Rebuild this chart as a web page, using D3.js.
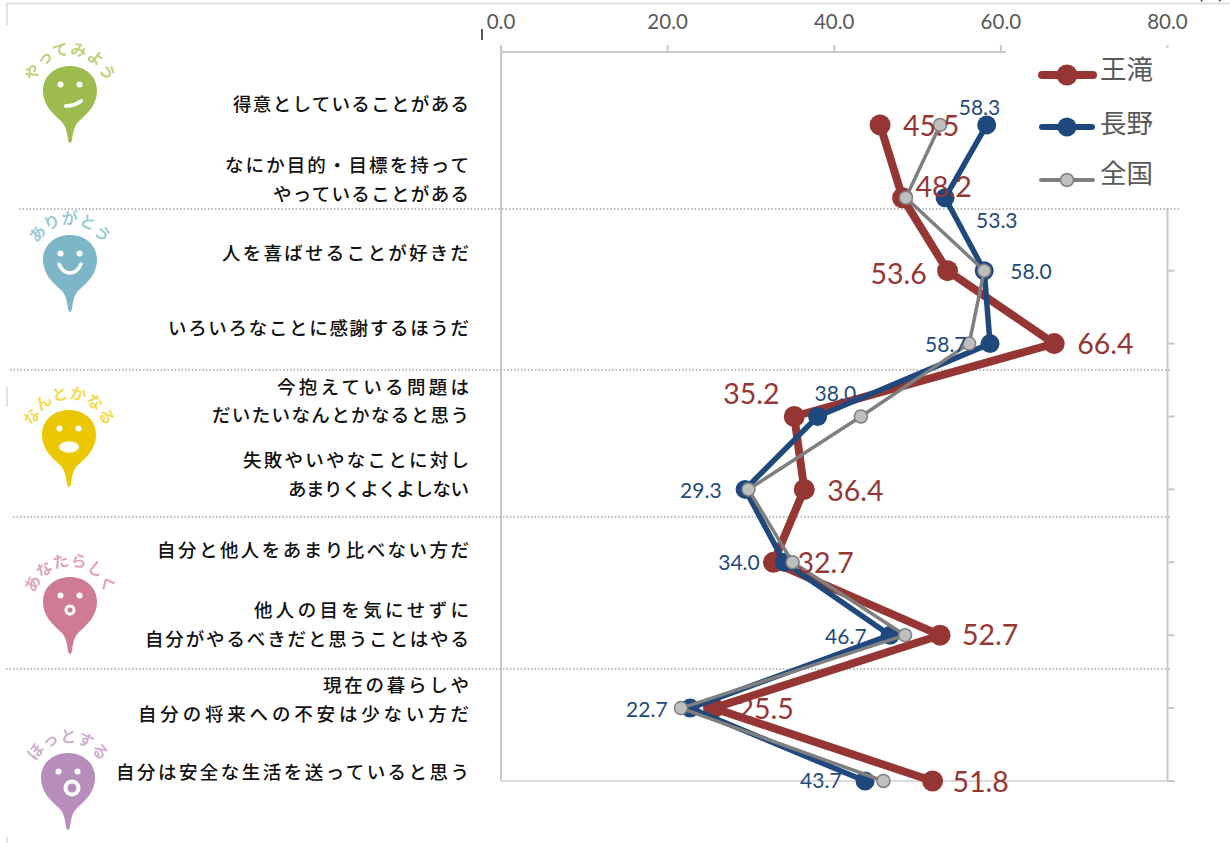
<!DOCTYPE html>
<html><head><meta charset="utf-8">
<script src="https://cdn.jsdelivr.net/npm/d3@7"></script>
<style>html,body{margin:0;padding:0;background:#fff}svg{display:block}</style>
</head><body><div id="c"></div>
<script>
const categories=[
 ["得意としていることがある"],
 ["なにか目的・目標を持って","やっていることがある"],
 ["人を喜ばせることが好きだ"],
 ["いろいろなことに感謝するほうだ"],
 ["今抱えている問題は","だいたいなんとかなると思う"],
 ["失敗やいやなことに対し","あまりくよくよしない"],
 ["自分と他人をあまり比べない方だ"],
 ["他人の目を気にせずに","自分がやるべきだと思うことはやる"],
 ["現在の暮らしや","自分の将来への不安は少ない方だ"],
 ["自分は安全な生活を送っていると思う"]];
const otaki=[45.5,48.2,53.6,66.4,35.2,36.4,32.7,52.7,25.5,51.8];
const nagano=[58.3,53.3,58.0,58.7,38.0,29.3,34.0,46.7,22.7,43.7];
const zenkoku=[52.7,48.6,58.0,56.2,43.2,29.7,35.0,48.5,21.6,45.9];
const xTicks=[0,20,40,60,80];
const seriesNames=["王滝","長野","全国"];
const groupNames=["やってみよう","ありがとう","なんとかなる","あなたらしく","ほっとする"];
const red="#963634",blue="#1F497D",gray="#7F7F7F",lightGray="#BFBFBF";
const W=1230,H=843;
const svg=d3.select("#c").append("svg").attr("width",W).attr("height",H);
const x=d3.scaleLinear().domain([0,80]).range([501,1167.5]);
const y=d3.scaleLinear().domain([-1,9]).range([52,781]);
const latin="Lato,'Noto Sans CJK JP',sans-serif";
const jp="'Noto Sans CJK JP',sans-serif";
const defs=svg.append("defs");
defs.append("filter").attr("id","soft").append("feGaussianBlur").attr("stdDeviation",0.5);

// frame fragments
svg.append("path").attr("d","M7,25V3.5H1230").attr("fill","none").attr("stroke","#D9D9D9").attr("stroke-width",1.5);
svg.append("path").attr("d","M7,387V407M7,837V843").attr("fill","none").attr("stroke","#D9D9D9").attr("stroke-width",1.5);
svg.append("path").attr("d","M482,29V40").attr("stroke","#222").attr("stroke-width",1.5);
svg.append("text").attr("x",1198).attr("y",-1).attr("font-family",latin).attr("font-size",19).attr("fill","#333").text("(%)");

// axes
const axisCol="#C8C8C8";
const ax=svg.append("g").attr("stroke",axisCol).attr("stroke-width",2).attr("fill","none");
ax.append("line").attr("x1",x(0)).attr("x2",1006).attr("y1",52).attr("y2",52);
ax.append("line").attr("x1",x(0)).attr("x2",x(0)).attr("y1",52).attr("y2",781);
ax.append("line").attr("x1",x(0)).attr("x2",x(80)+7).attr("y1",781).attr("y2",781).attr("stroke","#DCDCDC");
ax.append("line").attr("x1",x(80)).attr("x2",x(80)).attr("y1",208).attr("y2",781);
ax.selectAll("line.t").data(xTicks).join("line").attr("class","t")
  .attr("x1",d=>x(d)).attr("x2",d=>x(d)).attr("y1",45).attr("y2",d=>d===80?48:52);
ax.selectAll("line.r").data(d3.range(2,10)).join("line").attr("class","r")
  .attr("x1",x(80)).attr("x2",x(80)+7).attr("y1",d=>y(d)).attr("y2",d=>y(d));
svg.selectAll("text.tick").data(xTicks).join("text").attr("class","tick")
  .attr("x",d=>x(d)).attr("y",29).attr("text-anchor","middle")
  .attr("font-family",latin).attr("font-size",20.5).attr("fill","#595959")
  .text(d=>d.toFixed(1));

// dotted separators
const seps=[[19,1180,209],[10,1170,370],[13,1170,517],[6,1170,669]];
svg.selectAll("line.sep").data(seps).join("line").attr("class","sep")
  .attr("x1",d=>d[0]).attr("x2",d=>d[1]).attr("y1",d=>d[2]).attr("y2",d=>d[2])
  .attr("stroke","#A6A6A6").attr("stroke-width",1.3).attr("stroke-dasharray","1.5 2");

// category labels
const g=svg.append("g").attr("font-family",jp).attr("font-size",18.5).attr("font-weight",500).attr("fill","#111").attr("text-anchor","end");
const baselines=[[111],[172,201],[260],[335],[394,422],[467,496],[557],[617,646],[692,721],[779]];
const widths=[[236],[244,196],[247],[301],[192,257],[226,181],[312],[215,324],[146,331],[353]];
categories.forEach((ls,i)=>ls.forEach((t,j)=>{
  g.append("text").attr("x",469).attr("y",baselines[i][j])
   .attr("textLength",widths[i][j]).attr("lengthAdjust","spacing").text(t);
}));

// mascots
const mascots=[
 {c:"#9DBB4F",t:"#BCD37F",cx:70,cy:91,mouth:"smirk"},
 {c:"#7DB6C6",t:"#9CCAD8",cx:70,cy:260,mouth:"smile"},
 {c:"#EAC700",t:"#F3DA55",cx:69,cy:435,mouth:"teeth"},
 {c:"#CF7B93",t:"#E0A6B8",cx:70,cy:602,mouth:"oh"},
 {c:"#B78DBC",t:"#CFB0D3",cx:68,cy:778,mouth:"ooh"}];
mascots.forEach((m,i)=>{
  const G=svg.append("g").attr("transform",`translate(${m.cx},${m.cy})`).attr("filter","url(#soft)");
  G.append("path").attr("fill",m.c)
   .attr("d","M-27,0C-27,-16 -14,-25 0,-25C14,-25 27,-16 27,0C27,14 17,23 9,30C5,34 3,39 2,49C1,53 -1,53 -2,49C-3,39 -5,34 -9,30C-17,23 -27,14 -27,0Z");
  G.selectAll("circle.e").data([-9.5,9.5]).join("circle").attr("class","e").attr("cx",d=>d).attr("cy",-6.5).attr("r",3).attr("fill","#fff");
  if(m.mouth==="smirk") G.append("path").attr("d","M-4,15C2,15 7,13 11,10").attr("fill","none").attr("stroke","#fff").attr("stroke-width",4).attr("stroke-linecap","round");
  if(m.mouth==="smile") G.append("path").attr("d","M-11,4C-6,16 6,16 11,4").attr("fill","none").attr("stroke","#fff").attr("stroke-width",3.5).attr("stroke-linecap","round");
  if(m.mouth==="teeth") G.append("ellipse").attr("cx",0).attr("cy",12).attr("rx",10).attr("ry",5.5).attr("fill","#fff").attr("stroke","#F5E9A0").attr("stroke-width",1);
  if(m.mouth==="oh") G.append("circle").attr("cx",0).attr("cy",8).attr("r",4).attr("fill",m.c).attr("stroke","#fff").attr("stroke-width",3);
  if(m.mouth==="ooh") G.append("circle").attr("cx",4).attr("cy",10).attr("r",6.5).attr("fill",m.c).attr("stroke","#fff").attr("stroke-width",4);
  const id="arc"+i, r=36;
  defs.append("path").attr("id",id).attr("d",`M${m.cx-r},${m.cy}A${r},${r} 0 0 1 ${m.cx+r},${m.cy}`);
  svg.append("text").attr("font-family",jp).attr("font-size",16).attr("font-weight",700).attr("fill",m.t).attr("filter","url(#soft)")
    .append("textPath").attr("href","#"+id).attr("startOffset","50%").attr("text-anchor","middle").text(groupNames[i]);
});

// series
const line=d3.line().x(d=>x(d)).y((d,i)=>y(i));
const layers=[
 {v:otaki,c:red,w:8,r:10.5,f:red},
 {v:nagano,c:blue,w:5.5,r:9.5,f:blue},
 {v:zenkoku,c:gray,w:3.5,r:6.5,f:lightGray}];
layers.forEach(s=>{
  svg.append("path").datum(s.v).attr("d",line).attr("fill","none").attr("stroke",s.c).attr("stroke-width",s.w).attr("stroke-linejoin","round");
  svg.selectAll(null).data(s.v).join("circle").attr("cx",d=>x(d)).attr("cy",(d,i)=>y(i)).attr("r",s.r)
    .attr("fill",s.f).attr("stroke",s===layers[2]?gray:"none").attr("stroke-width",1.5);
});

// data labels
const redOff=[[23,1],[13,-11],[-77,3],[23,0],[-71,-23],[23,2],[24,1],[22,0],[24,1],[20,1]];
svg.append("g").attr("font-family",latin).attr("font-size",28.5).attr("fill",red)
 .selectAll("text").data(otaki).join("text")
 .attr("x",(d,i)=>x(d)+redOff[i][0]).attr("y",(d,i)=>y(i)+10+redOff[i][1]).text(d=>d.toFixed(1));
const blueOff=[[-28,-10],[31,30],[26,8],[-65,8],[-3,-16],[-65,9],[-66,8],[-65,9],[-64,9],[-65,7]];
svg.append("g").attr("font-family",latin).attr("font-size",21).attr("fill",blue)
 .selectAll("text").data(nagano).join("text")
 .attr("x",(d,i)=>x(d)+blueOff[i][0]).attr("y",(d,i)=>y(i)+blueOff[i][1]).text(d=>d.toFixed(1));

// legend
const leg=[
 {n:0,y:75,c:red,w:8,r:10.5,f:red,x1:1042,x2:1093,ty:79},
 {n:1,y:127,c:blue,w:6,r:9.5,f:blue,x1:1042,x2:1092,ty:133},
 {n:2,y:180,c:gray,w:4,r:6.5,f:lightGray,x1:1041,x2:1093,ty:183}];
leg.forEach(l=>{
  svg.append("line").attr("x1",l.x1).attr("x2",l.x2).attr("y1",l.y).attr("y2",l.y).attr("stroke",l.c).attr("stroke-width",l.w).attr("stroke-linecap","round");
  svg.append("circle").attr("cx",1067).attr("cy",l.y).attr("r",l.r).attr("fill",l.f).attr("stroke",l.n===2?gray:"none").attr("stroke-width",1.5);
  svg.append("text").attr("x",1100).attr("y",l.ty).attr("font-family",jp).attr("font-size",26.5).attr("fill","#595959").text(seriesNames[l.n]);
});
</script></body></html>
